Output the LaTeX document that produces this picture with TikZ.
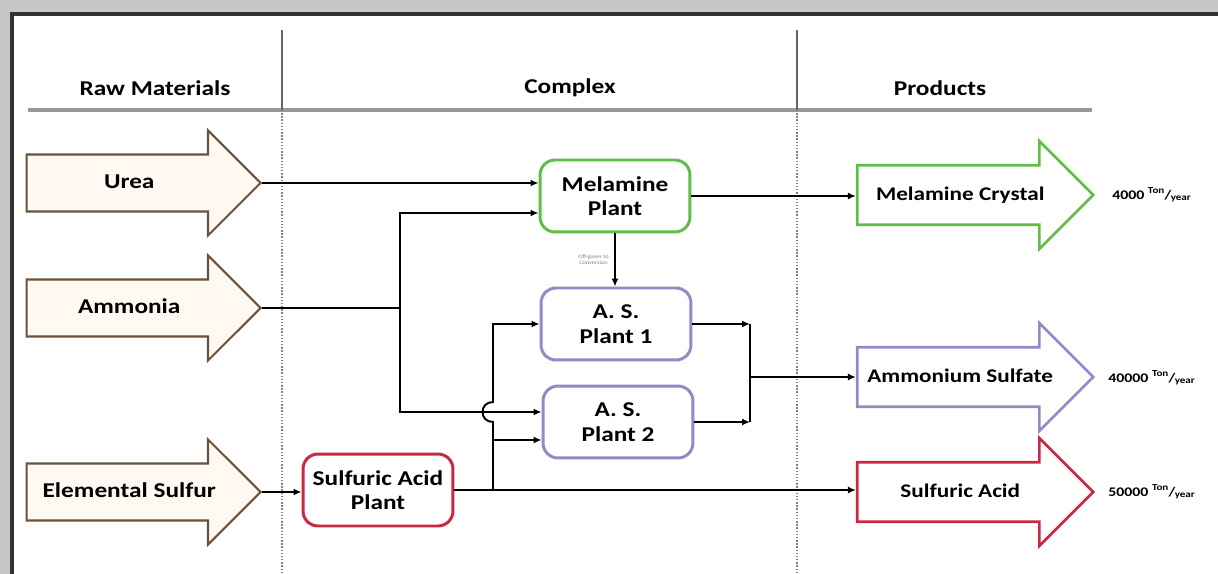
\documentclass[tikz,border=0pt]{standalone}
\usepackage{fontspec}
\setmainfont{Carlito}[FakeStretch=1.2]
\usetikzlibrary{arrows.meta, positioning, shapes.arrows, calc}

\definecolor{melgreen}{RGB}{96,190,72}
\definecolor{aspurple}{RGB}{150,135,200}
\definecolor{acidred}{RGB}{200,40,65}
\definecolor{rawbrown}{RGB}{105,82,60}
\definecolor{rawfill}{RGB}{255,249,242}

\newcommand{\tonyear}{\textsuperscript{Ton}\kern-0.05em/\kern-0.05em\textsubscript{year}}

\begin{document}
\begin{tikzpicture}[
  x=0.02cm, y=-0.02cm,
  font=\bfseries\fontsize{12}{14}\selectfont,
  >={Latex[length=4.5pt,width=4pt]},
  rawarrow/.style={single arrow, draw=rawbrown, fill=rawfill, line width=1.2pt,
    single arrow head extend=0.48cm, minimum height=4.68cm,
    text height=0.3cm, text depth=0.08cm, inner ysep=0.36cm, inner xsep=2pt},
  prodarrow/.style={single arrow, fill=white, line width=1.5pt,
    font=\bfseries\fontsize{11}{13}\selectfont,
    single arrow head extend=0.48cm, minimum height=4.72cm,
    text height=0.3cm, text depth=0.08cm, inner ysep=0.38cm, inner xsep=1pt},
  plant/.style={draw, fill=white, rounded corners=0.3cm, line width=1.7pt, align=center,
    minimum width=3cm, minimum height=1.44cm, inner sep=1pt},
  head/.style={font=\bfseries\fontsize{12}{14}\selectfont},
  rate/.style={anchor=west, inner sep=0pt, font=\bfseries\fontsize{7.5}{9}\selectfont},
  line/.style={line width=1.1pt},
  flow/.style={line, ->}
]
\useasboundingbox (0,0) rectangle (1218,574);
\fill[gray!45] (0,0) rectangle (1218,574);
\fill[white] (12,14) rectangle (1218,574);
\draw[black!80, line width=2pt] (12,574) -- (12,14) -- (1218,14);

% column heads
\node[head] (hraw) at (155,88) {Raw Materials};
\node[head] (hcplx) at (570,88) {Complex};
\node[head] (hprod) at (940,88) {Products};
\draw[gray!80, line width=2pt] (28,110) -- (1092,110);
\foreach \x in {282,797} {
  \draw[black!60, line width=0.6pt] (\x,30) -- (\x,110);
  \draw[gray, densely dotted, line width=0.8pt] (\x,110) -- (\x,574);
}

% raw materials
\node[rawarrow, anchor=tip] (urea) at (262,183) {Urea};
\node[rawarrow, anchor=tip] (ammonia) at (262,308) {Ammonia};
\node[rawarrow, anchor=tip] (sulfur) at (262,492) {Elemental Sulfur};

% plants
\node[plant, draw=melgreen] (melamine) at (615,196) {Melamine\\Plant};
\node[plant, draw=aspurple] (asA) at (616,324) {A. S.\\Plant 1};
\node[plant, draw=aspurple] (asB) at (618,422) {A. S.\\Plant 2};
\node[plant, draw=acidred] (acidplant) at (378,490) {Sulfuric Acid\\Plant};

% products
\node[prodarrow, draw=melgreen, anchor=tip] (crystal) at (1095,195) {Melamine Crystal};
\node[prodarrow, draw=aspurple, anchor=tip] (amsulf) at (1095,377) {Ammonium Sulfate};
\node[prodarrow, draw=acidred, anchor=tip] (acid) at (1095,492) {Sulfuric Acid};

\node[rate] (rateM) at (1112,195) {4000 \tonyear};
\node[rate] (rateA) at (1108,378) {40000 \tonyear};
\node[rate] (rateS) at (1108,492) {50000 \tonyear};

% connectors
\coordinate (nh3split) at (400,308);
\coordinate (saSplit) at (493,490);
\coordinate (asJoin) at (750,377);
\coordinate (melLow) at ([yshift=-0.34cm]melamine.west);
\coordinate (asBhigh) at ([yshift=0.2cm]asB.west);
\coordinate (asBlow) at ([yshift=-0.36cm]asB.west);

\draw[flow] (urea.tip) -- (urea.tip -| melamine.west);
\draw[line] (ammonia.tip) -- (nh3split);
\draw[flow] (nh3split) |- (melLow);
\draw[flow] (nh3split) |- (asBhigh);
\draw[flow] (sulfur.tip) -- (sulfur.tip -| acidplant.west);
\draw[flow] (acidplant.east) -- (acidplant.east -| acid.tail);
\draw[flow] (saSplit) -- (493,422) .. controls (479,422) and (479,402) .. (493,402) |- (asA.west);
\draw[flow] (asBlow -| saSplit) -- (asBlow);
\draw[flow] (melamine.south) -- node[left, text=gray, align=center, inner sep=3pt,
  font=\fontsize{3}{3.5}\selectfont] {Off-gases to\\Conversion} (melamine.south |- asA.north);
\draw[flow] (asA.east) -- (asA.east -| asJoin);
\draw[flow] (asB.east) -- (asB.east -| asJoin);
\draw[line] (asA.east -| asJoin) -- (asB.east -| asJoin);
\draw[flow] (asJoin) -- (asJoin -| amsulf.tail);
\draw[flow] (melamine.east) -- (melamine.east -| crystal.tail);
\end{tikzpicture}
\end{document}
